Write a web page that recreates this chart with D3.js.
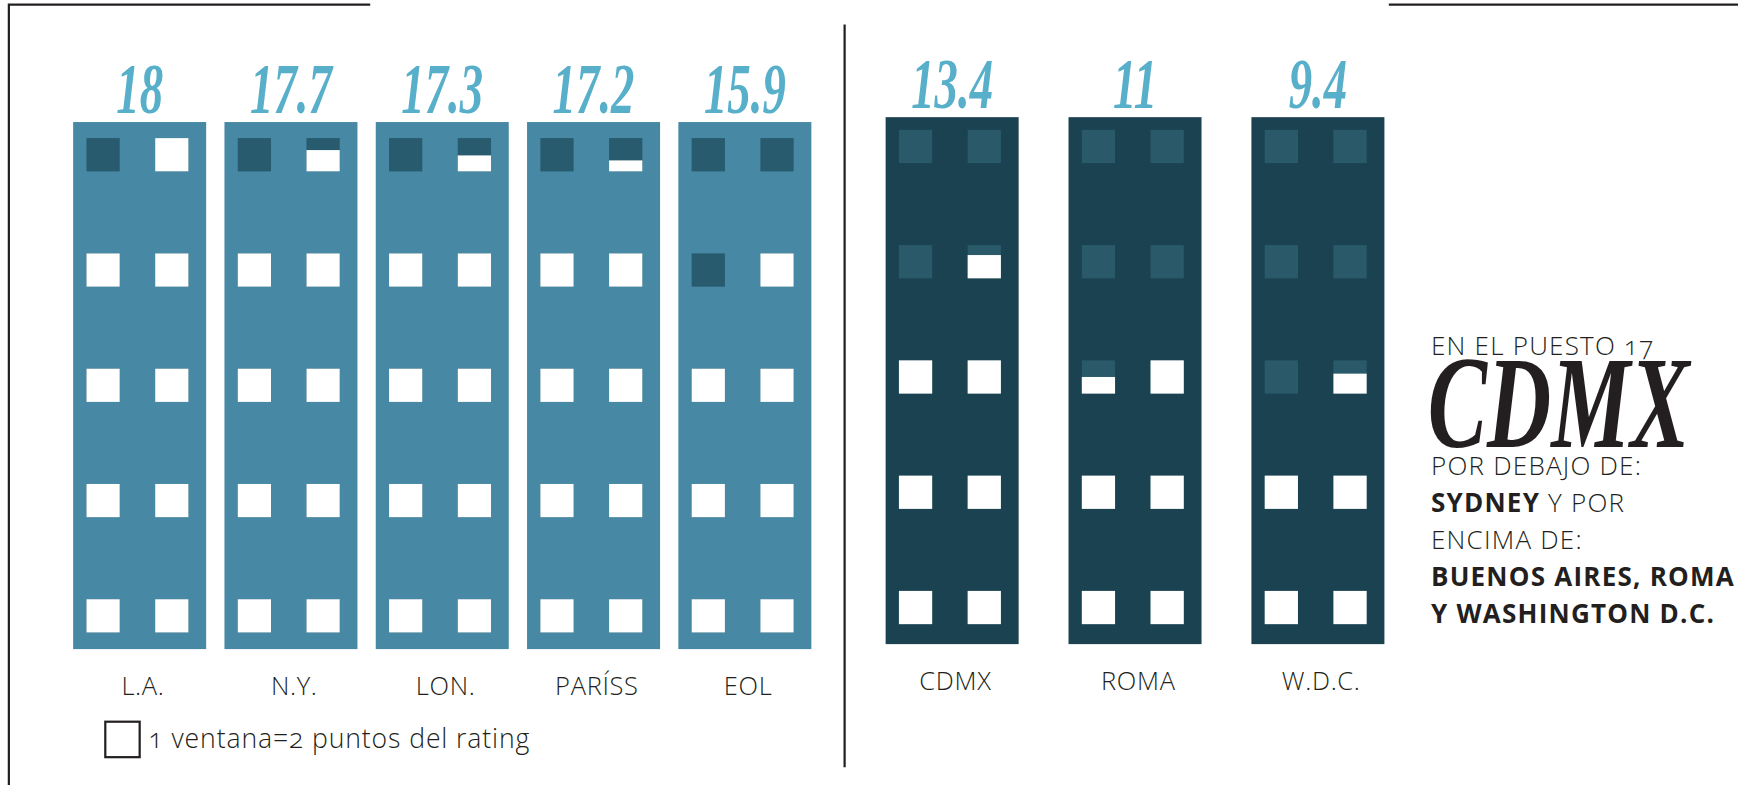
<!DOCTYPE html>
<html>
<head>
<meta charset="utf-8">
<script src="https://cdn.jsdelivr.net/npm/d3@7"></script>
<style>
  body { margin: 0; background: #fff; }
  svg { display: block; }
</style>
</head>
<body>
<div id="chart"></div>
<script>
// datos
const ciudades = ['L.A.', 'N.Y.', 'LON.', 'PARÍSS', 'EOL', 'CDMX', 'ROMA', 'W.D.C.'];
const rating = [18, 17.7, 17.3, 17.2, 15.9, 13.4, 11, 9.4];
// ventanas encendidas (blancas) tal como aparecen en el dibujo
const ventanas = [9, 8.64, 8.48, 8.33, 7, 6.7, 5.5, 4.6];
const grupo = ['antes', 'antes', 'antes', 'antes', 'antes', 'cdmx', 'cdmx', 'cdmx'];

const textoLateral = [
  [{t: 'EN EL PUESTO 17', b: false}],
  [{t: 'POR DEBAJO DE:', b: false}],
  [{t: 'SYDNEY', b: true}, {t: ' Y POR', b: false}],
  [{t: 'ENCIMA DE:', b: false}],
  [{t: 'BUENOS AIRES, ROMA', b: true}],
  [{t: 'Y WASHINGTON D.C.', b: true}]
];

// el dibujo se hace en 1568x708 y se escala a la ventana
const width = 1568;
const height = 708;

const layout = {
  antes: {x0: 66, x1: 732, top: 110, bottom: 585.5, winTop: 124.5, fill: '#4788a4', dark: '#275b6d', padding: 0.1209},
  cdmx:  {x0: 799, x1: 1249, top: 105.6, bottom: 581, winTop: 117, fill: '#1b4250', dark: '#2a5a6a', padding: 0.2727}
};

const ink = '#231f20';
const sans = '"Open Sans", Lato, sans-serif';
const script = '"Liberation Serif", "DejaVu Serif", serif';

const svg = d3.select('#chart').append('svg')
  .attr('width', 1738)
  .attr('height', 785)
  .attr('viewBox', `0 0 ${width} ${height}`);

// marco
const frame = svg.append('g')
  .attr('fill', 'none')
  .attr('stroke', ink)
  .attr('stroke-width', 2);
frame.append('path').attr('d', 'M334,4H8V708');
frame.append('path').attr('d', 'M1253,4H1568');
frame.append('path').attr('d', 'M762,22V692');

const data = ciudades.map((c, i) => ({
  ciudad: c, rating: rating[i], ventanas: ventanas[i], grupo: grupo[i]
}));

Object.keys(layout).forEach(key => {
  const L = layout[key];
  const rows = data.filter(d => d.grupo === key);

  const x = d3.scaleBand()
    .domain(rows.map(d => d.ciudad))
    .range([L.x0, L.x1])
    .paddingInner(L.padding)
    .paddingOuter(0);

  const rowY = d3.scaleBand()
    .domain(d3.range(5))
    .range([L.winTop, L.winTop + 446])
    .paddingInner(74 / 104);

  const colX = d3.scaleBand()
    .domain([0, 1])
    .range([12, 104])
    .paddingInner(32 / 62);

  const lit = d3.scaleLinear()
    .domain([0, 1])
    .range([0, rowY.bandwidth()]);

  const edificio = svg.append('g')
    .selectAll('g')
    .data(rows)
    .join('g')
      .attr('transform', d => `translate(${x(d.ciudad)},0)`);

  edificio.append('rect')
    .attr('y', L.top)
    .attr('width', x.bandwidth())
    .attr('height', L.bottom - L.top)
    .attr('fill', L.fill);

  const win = edificio.selectAll('g.win')
    .data(d => d3.range(10).map(k => ({
      row: 4 - Math.floor(k / 2),
      col: k % 2 === 0 ? 1 : 0,
      on: Math.max(0, Math.min(1, d.ventanas - k))
    })))
    .join('g')
      .attr('class', 'win')
      .attr('transform', w => `translate(${colX(w.col)},${rowY(w.row)})`);

  win.append('rect')
    .attr('width', colX.bandwidth())
    .attr('height', rowY.bandwidth())
    .attr('fill', L.dark);

  win.append('rect')
    .attr('y', w => rowY.bandwidth() - lit(w.on))
    .attr('width', colX.bandwidth())
    .attr('height', w => lit(w.on))
    .attr('fill', '#fff');

  // valor arriba
  edificio.append('text')
    .attr('transform', `translate(${x.bandwidth() / 2},${L.top - 8}) scale(0.66,1)`)
    .attr('text-anchor', 'middle')
    .attr('font-family', script)
    .attr('font-style', 'italic')
    .attr('font-weight', 'bold')
    .attr('font-size', 64)
    .attr('fill', '#58afca')
    .text(d => d3.format('~')(d.rating));

  // nombre abajo
  edificio.append('text')
    .attr('x', x.bandwidth() / 2 + 3)
    .attr('y', L.bottom + 41)
    .attr('text-anchor', 'middle')
    .attr('font-family', sans)
    .attr('font-weight', 300)
    .attr('font-size', 23)
    .attr('letter-spacing', 0.6)
    .attr('fill', ink)
    .text(d => d.ciudad);
});

// leyenda
const legend = svg.append('g').attr('transform', 'translate(95,651)');
legend.append('rect')
  .attr('width', 31)
  .attr('height', 32)
  .attr('fill', 'none')
  .attr('stroke', ink)
  .attr('stroke-width', 2);
legend.append('text')
  .attr('x', 39)
  .attr('y', 24)
  .attr('font-family', sans)
  .attr('font-weight', 300)
  .attr('font-size', 24)
  .attr('letter-spacing', 0.8)
  .attr('fill', ink)
  .style('font-variant-numeric', 'oldstyle-nums')
  .text('1 ventana=2 puntos del rating');

// bloque de texto a la derecha
const side = svg.append('g')
  .attr('transform', 'translate(1291,0)')
  .attr('font-family', sans)
  .attr('font-size', 23.5)
  .attr('letter-spacing', 1.1)
  .attr('fill', ink);

const baselines = [320, 428.5, 462, 495, 529, 562];
textoLateral.forEach((line, i) => {
  const t = side.append('text')
    .attr('y', baselines[i])
    .style('font-variant-numeric', 'oldstyle-nums');
  line.forEach(p => {
    t.append('tspan')
      .attr('font-weight', p.b ? 700 : 300)
      .text(p.t);
  });
});

side.append('text')
  .attr('transform', 'translate(-3,403) scale(0.68,1)')
  .attr('font-family', script)
  .attr('font-style', 'italic')
  .attr('font-weight', 'bold')
  .attr('font-size', 118)
  .attr('letter-spacing', 0)
  .attr('fill', ink)
  .text('CDMX');
</script>
</body>
</html>
